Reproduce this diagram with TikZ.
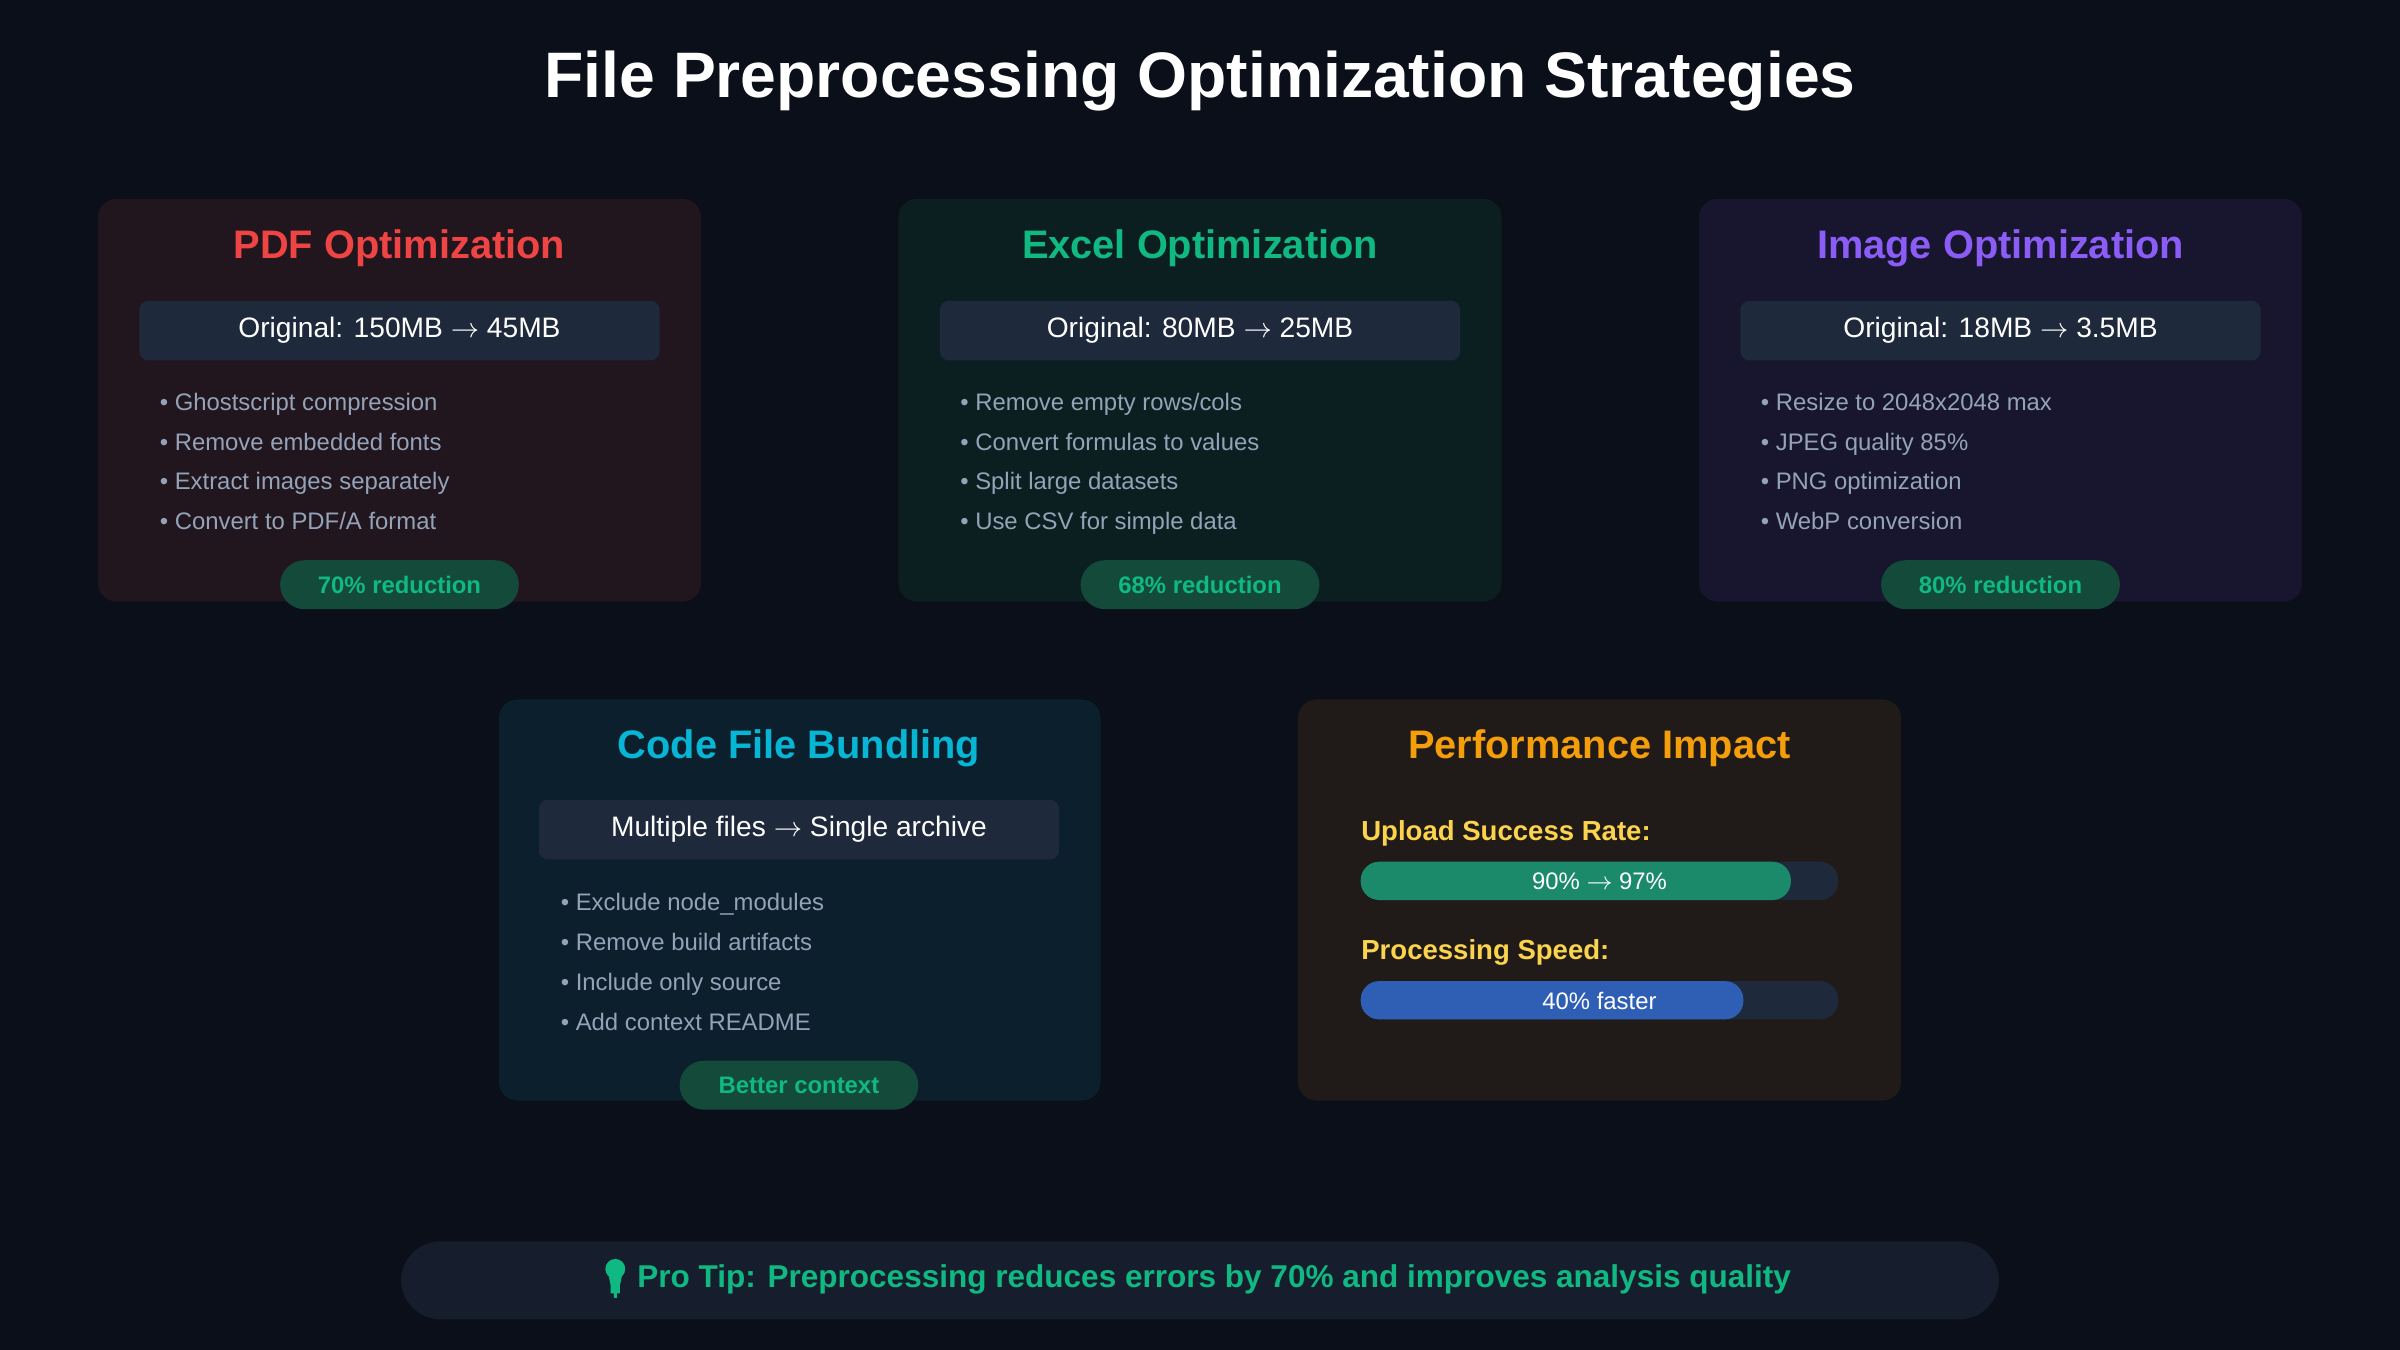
\documentclass[tikz,border=0pt]{standalone}
\usepackage{fontspec}
\setmainfont{Liberation Sans}
\newcommand{\arr}{ $\rightarrow$ }
\definecolor{bg}{HTML}{0B0F19}
\definecolor{boxc}{HTML}{1E293B}
\definecolor{red}{HTML}{EF4444}
\definecolor{grn}{HTML}{10B981}
\definecolor{pur}{HTML}{8B5CF6}
\definecolor{cya}{HTML}{06B6D4}
\definecolor{ora}{HTML}{F59E0B}
\definecolor{yel}{HTML}{FCD34D}
\definecolor{gry}{HTML}{94A3B8}
\definecolor{cpdf}{HTML}{21151E}
\definecolor{cxls}{HTML}{0C1F20}
\definecolor{cimg}{HTML}{17162E}
\definecolor{ccode}{HTML}{0B1F2C}
\definecolor{cperf}{HTML}{201B18}
\definecolor{badge}{HTML}{134A3A}
\definecolor{tip}{HTML}{161E2E}
\definecolor{gbar}{HTML}{1A8A6A}
\definecolor{bbar}{HTML}{2F5FB5}
\begin{document}
\begin{tikzpicture}[x=0.5pt,y=-0.5pt,
 card/.style={rounded corners=6pt},
 ctitle/.style={font=\bfseries\fontsize{13}{15}\selectfont},
 obox/.style={fill=boxc,rounded corners=3pt,minimum width=170pt,minimum height=19.5pt,text=white,font=\fontsize{9.2}{11}\selectfont,inner sep=0pt},
 bul/.style={anchor=base west,text=gry,font=\fontsize{7.8}{9}\selectfont,inner sep=0pt},
 badg/.style={fill=badge,rounded corners=8pt,minimum width=78pt,minimum height=16pt,text=grn,font=\bfseries\fontsize{7.8}{9}\selectfont,inner sep=0pt}]
\fill[bg] (0,0) rectangle (1568,882);
\useasboundingbox (0,0) rectangle (1568,882);
\node[text=white,font=\bfseries\fontsize{21}{25}\selectfont] (title) at (784,53) {File Preprocessing Optimization Strategies};
\newcommand{\mycard}[9]{%
 \fill[#2,card] (#1,130) rectangle ++(394,263);
 \node[ctitle,text=#3] (#9t) at (#1+197,162) {#4};
 \node[obox] (#9o) at (#1+197,216) {#5};
 \node[bul] (#9a) at (#1+40,268) {#6};
 \node[badg] (#9b) at (#1+197,382) {#7};
 #8}
\mycard{64}{cpdf}{red}{PDF Optimization}{Original: 150MB\arr45MB}{• Ghostscript compression}{70\% reduction}{%
 \node[bul] (p2) at (104,294) {• Remove embedded fonts};
 \node[bul] (p3) at (104,320) {• Extract images separately};
 \node[bul] (p4) at (104,346) {• Convert to PDF/A format};}{pdf}
\mycard{587}{cxls}{grn}{Excel Optimization}{Original: 80MB\arr25MB}{• Remove empty rows/cols}{68\% reduction}{%
 \node[bul] (e2) at (627,294) {• Convert formulas to values};
 \node[bul] (e3) at (627,320) {• Split large datasets};
 \node[bul] (e4) at (627,346) {• Use CSV for simple data};}{xls}
\mycard{1110}{cimg}{pur}{Image Optimization}{Original: 18MB\arr3.5MB}{• Resize to 2048x2048 max}{80\% reduction}{%
 \node[bul] (i2) at (1150,294) {• JPEG quality 85\%};
 \node[bul] (i3) at (1150,320) {• PNG optimization};
 \node[bul] (i4) at (1150,346) {• WebP conversion};}{img}
% code
\fill[ccode,card] (326,457) rectangle (719,719);
\node[ctitle,text=cya] (ct) at (522,489) {Code File Bundling};
\node[obox] (co) at (522,542) {Multiple files\arr Single archive};
\node[bul] (c1) at (366,595) {• Exclude node\_modules};
\node[bul] (c2) at (366,621) {• Remove build artifacts};
\node[bul] (c3) at (366,647) {• Include only source};
\node[bul] (c4) at (366,673) {• Add context README};
\node[badg] (cb) at (522,709) {Better context};
% perf
\fill[cperf,card] (848,457) rectangle (1242,719);
\node[ctitle,text=ora] (pt) at (1045,489) {Performance Impact};
\node[anchor=base west,text=yel,font=\bfseries\fontsize{9}{11}\selectfont,inner sep=0pt] (l1) at (889,549) {Upload Success Rate:};
\fill[boxc,rounded corners=6pt] (889,563) rectangle (1201,588);
\fill[gbar,rounded corners=6pt] (889,563) rectangle (1170,588);
\node[text=white,font=\fontsize{7.8}{9}\selectfont] (v1) at (1045,576) {90\%\arr97\%};
\node[anchor=base west,text=yel,font=\bfseries\fontsize{9}{11}\selectfont,inner sep=0pt] (l2) at (889,627) {Processing Speed:};
\fill[boxc,rounded corners=6pt] (889,641) rectangle (1201,666);
\fill[bbar,rounded corners=6pt] (889,641) rectangle (1139,666);
\node[text=white,font=\fontsize{7.8}{9}\selectfont] (v2) at (1045,654) {40\% faster};
% tip
\fill[tip,rounded corners=13pt] (262,811) rectangle (1306,862);
\node[text=grn,font=\bfseries\fontsize{10.3}{12}\selectfont,anchor=west,inner sep=0pt] (tiptext) at (416,836) {Pro Tip: Preprocessing reduces errors by 70\% and improves analysis quality};
\fill[grn] (402,829) circle (6.5) (397,830) -- (407,830) -- (405,840) -- (399,840) -- cycle (399,840) rectangle (405,845) (401,845) rectangle (403,848);
\end{tikzpicture}
\end{document}
